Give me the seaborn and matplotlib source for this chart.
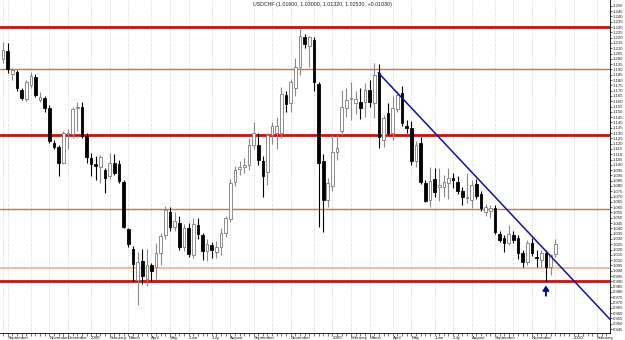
import numpy as np
import pandas as pd
import matplotlib
matplotlib.use("Agg")
import matplotlib.pyplot as plt
import matplotlib.transforms as mtransforms
import seaborn as sns

# weekly USDCHF bars
first_week = "2007-08-26"
opens = [1.200, 1.207, 1.186, 1.1875, 1.171, 1.162, 1.175, 1.183, 1.161, 1.163,
         1.154, 1.121, 1.117, 1.102, 1.129, 1.129, 1.154, 1.155, 1.127, 1.106,
         1.101, 1.098, 1.095, 1.089, 1.102, 1.101, 1.084, 1.039, 1.021, 0.991,
         1.009, 0.992, 1.005, 1.004, 1.017, 1.034, 1.055, 1.041, 1.045, 1.022,
         1.040, 1.015, 1.043, 1.034, 1.019, 1.024, 1.018, 1.022, 1.036, 1.049,
         1.084, 1.096, 1.098, 1.100, 1.119, 1.119, 1.104, 1.093, 1.128, 1.130,
         1.130, 1.166, 1.158, 1.172, 1.192, 1.221, 1.212, 1.218, 1.176, 1.104,
         1.067, 1.080, 1.112, 1.132, 1.154, 1.162, 1.158, 1.159, 1.159, 1.171,
         1.158, 1.187, 1.123, 1.149, 1.130, 1.153, 1.168, 1.137, 1.135, 1.104,
         1.121, 1.083, 1.067, 1.087, 1.079, 1.079, 1.083, 1.088, 1.084, 1.075,
         1.069, 1.067, 1.082, 1.072, 1.055, 1.056, 1.059, 1.035, 1.031, 1.026,
         1.034, 1.031, 1.017, 1.008, 1.026, 1.013, 1.010, 1.017, 1.004, 1.016]
highs = [1.216, 1.215, 1.191, 1.189, 1.172, 1.180, 1.1875, 1.186, 1.169, 1.165,
         1.156, 1.123, 1.119, 1.132, 1.134, 1.155, 1.159, 1.159, 1.130, 1.111,
         1.108, 1.109, 1.097, 1.111, 1.110, 1.105, 1.086, 1.040, 1.023, 1.018,
         1.021, 1.021, 1.007, 1.026, 1.036, 1.061, 1.060, 1.055, 1.052, 1.044,
         1.045, 1.050, 1.050, 1.036, 1.030, 1.027, 1.028, 1.040, 1.052, 1.087,
         1.099, 1.104, 1.106, 1.125, 1.140, 1.130, 1.108, 1.130, 1.140, 1.145,
         1.173, 1.170, 1.181, 1.201, 1.229, 1.223, 1.222, 1.221, 1.178, 1.110,
         1.088, 1.128, 1.128, 1.171, 1.172, 1.178, 1.170, 1.172, 1.177, 1.180,
         1.196, 1.195, 1.147, 1.158, 1.165, 1.170, 1.174, 1.142, 1.141, 1.122,
         1.126, 1.086, 1.098, 1.097, 1.097, 1.090, 1.097, 1.092, 1.089, 1.079,
         1.092, 1.086, 1.087, 1.075, 1.063, 1.062, 1.062, 1.038, 1.034, 1.043,
         1.038, 1.034, 1.020, 1.029, 1.031, 1.020, 1.020, 1.020, 1.016, 1.030]
lows = [1.196, 1.187, 1.180, 1.170, 1.161, 1.160, 1.172, 1.164, 1.159, 1.150,
        1.1206, 1.115, 1.089, 1.101, 1.115, 1.125, 1.132, 1.125, 1.102, 1.089,
        1.086, 1.083, 1.073, 1.087, 1.090, 1.083, 1.040, 1.022, 0.990, 0.968,
        0.988, 0.986, 0.990, 0.992, 1.005, 1.030, 1.038, 1.038, 1.020, 1.019,
        1.013, 1.012, 1.030, 1.010, 1.009, 1.012, 1.012, 1.015, 1.032, 1.046,
        1.080, 1.090, 1.092, 1.095, 1.115, 1.100, 1.070, 1.081, 1.120, 1.115,
        1.125, 1.150, 1.150, 1.165, 1.185, 1.210, 1.192, 1.170, 1.041, 1.037,
        1.060, 1.075, 1.105, 1.128, 1.145, 1.142, 1.148, 1.143, 1.145, 1.155,
        1.144, 1.116, 1.117, 1.128, 1.123, 1.150, 1.137, 1.130, 1.100, 1.098,
        1.082, 1.065, 1.060, 1.070, 1.066, 1.070, 1.068, 1.078, 1.072, 1.062,
        1.064, 1.059, 1.068, 1.056, 1.052, 1.050, 1.035, 1.027, 1.018, 1.024,
        1.026, 1.011, 1.004, 1.005, 1.014, 1.004, 1.004, 0.990, 0.996, 1.0132]
closes = [1.208, 1.190, 1.189, 1.1725, 1.163, 1.178, 1.184, 1.166, 1.164, 1.154,
          1.1225, 1.117, 1.102, 1.130, 1.130, 1.153, 1.155, 1.127, 1.107, 1.101,
          1.099, 1.107, 1.088, 1.102, 1.092, 1.085, 1.041, 1.025, 1.006, 1.008,
          0.995, 1.005, 1.000, 1.017, 1.033, 1.057, 1.041, 1.047, 1.022, 1.040,
          1.016, 1.044, 1.035, 1.019, 1.025, 1.020, 1.022, 1.036, 1.050, 1.083,
          1.095, 1.098, 1.100, 1.119, 1.130, 1.105, 1.089, 1.128, 1.137, 1.137,
          1.167, 1.157, 1.178, 1.192, 1.222, 1.214, 1.221, 1.178, 1.102, 1.067,
          1.083, 1.112, 1.116, 1.155, 1.161, 1.1625, 1.162, 1.154, 1.171, 1.159,
          1.185, 1.126, 1.144, 1.130, 1.154, 1.166, 1.139, 1.135, 1.104, 1.119,
          1.084, 1.066, 1.085, 1.074, 1.081, 1.084, 1.088, 1.086, 1.075, 1.070,
          1.070, 1.081, 1.071, 1.059, 1.060, 1.059, 1.037, 1.029, 1.026, 1.035,
          1.029, 1.017, 1.008, 1.026, 1.017, 1.012, 1.017, 1.004, 1.015, 1.0253]

red_levels = [1.230, 1.128, 0.990]
orange_levels = [1.190, 1.058]
light_levels = [1.0025]

trend_dates = ["2009-03-14", "2010-02-27"]
trend_values = [1.187, 0.954]

arrow_week = "2009-11-22"
arrow_span = [0.9765, 0.9862]

label_months = ["2007-09", "2007-11", "2007-12", "2008-01", "2008-02", "2008-03",
                "2008-04", "2008-05", "2008-06", "2008-07", "2008-08", "2008-09",
                "2008-11", "2009-01", "2009-02", "2009-03", "2009-04", "2009-05",
                "2009-06", "2009-07", "2009-08", "2009-09", "2009-11", "2010-01",
                "2010-02"]
label_texts = ["September", "November", "December", "2008", "February", "March",
               "April", "May", "June", "July", "August", "September",
               "November", "2009", "February", "March", "April", "May",
               "June", "July", "August", "September", "November", "2010",
               "February"]

title = "USDCHF (1.01600, 1.03000, 1.01320, 1.02530, +0.01030)"

sns.set_theme(style="white")
plt.rcParams["font.family"] = ["Liberation Sans", "DejaVu Sans"]

df = pd.DataFrame({"open": opens, "high": highs, "low": lows, "close": closes})
df["date"] = pd.date_range(first_week, periods=len(df), freq="7D")
up = df["close"] >= df["open"]

fig = plt.figure(figsize=(6.25, 3.4), dpi=100)
ax = fig.add_axes([0, 0.0206, 0.976, 0.9794])

# levels
for lv in red_levels:
    ax.axhline(lv, color="#cc1010", lw=2.0, zorder=1)
for lv in orange_levels:
    ax.axhline(lv, color="#d2753a", lw=1.0, zorder=1)
for lv in light_levels:
    ax.axhline(lv, color="#f2a878", lw=1.1, zorder=1)

# candles
wick_col = np.where(up, "#8a8a8a", "black")
ax.vlines(df["date"], df["low"], df["high"], colors=wick_col, lw=0.8, zorder=2)
body_lo = df[["open", "close"]].min(axis=1)
body_h = np.maximum((df["close"] - df["open"]).abs(), 0.0007)
ax.bar(df.loc[up, "date"], body_h[up], bottom=body_lo[up], width=4.0,
       color="white", edgecolor="#7a7a7a", lw=0.6, zorder=3)
ax.bar(df.loc[~up, "date"], body_h[~up], bottom=body_lo[~up], width=4.0,
       color="black", edgecolor="black", lw=0.6, zorder=3)

# trend line
sns.lineplot(x=pd.to_datetime(trend_dates), y=trend_values, color="#12129a",
             lw=1.1, ax=ax, zorder=4)

ax.annotate("", xy=(pd.Timestamp(arrow_week), arrow_span[1]),
            xytext=(pd.Timestamp(arrow_week), arrow_span[0]),
            arrowprops=dict(arrowstyle="-|>,head_width=0.3,head_length=0.45",
                            color="#0a0a90", lw=1.4, mutation_scale=6,
                            shrinkA=0, shrinkB=0))

# x axis: grid at first bar of each month, labels on some
weeks = pd.date_range(first_week, "2010-03-31", freq="7D")
firsts = weeks.to_series().groupby(weeks.to_period("M")).first()
lab_map = dict(zip(label_months, label_texts))
ax.set_xticks(firsts.values)
ax.set_xticklabels([lab_map.get(str(p), "") for p in firsts.index],
                   fontsize=3.2, ha="left", color="#222222")
shift = mtransforms.ScaledTranslation(1.0 / 72, 0, fig.dpi_scale_trans)
for t in ax.get_xticklabels():
    t.set_transform(t.get_transform() + shift)
ax.set_xticks(weeks, minor=True)
ax.tick_params(axis="x", which="both", length=1.8, width=0.5, pad=0.5,
               direction="out", color="#444444", bottom=True)
ax.grid(axis="x", which="major", color="#c4c4c4", ls=(0, (1, 2)), lw=0.6)

ax.set_xlim(pd.Timestamp("2007-08-21 12:00"), pd.Timestamp("2010-02-26 16:00"))
ax.set_ylim(0.9413, 1.2555)

# price axis on the right
ax.yaxis.tick_right()
ax.set_yticks(np.round(np.arange(0.945, 1.2501, 0.005), 3))
ax.yaxis.set_major_formatter(plt.FormatStrFormatter("%.3f"))
ax.tick_params(axis="y", length=1.5, width=0.5, pad=0.6, labelsize=3.1,
               labelcolor="#222222", direction="out", right=True)
ax.set_xlabel("")
ax.set_ylabel("")

for s in ["top", "left"]:
    ax.spines[s].set_visible(False)
for s in ["right", "bottom"]:
    ax.spines[s].set_color("black")
    ax.spines[s].set_linewidth(0.6)

fig.text(0.405, 0.994, title, fontsize=3.8, va="top", ha="left", color="#222222")

fig.savefig("out.png", dpi=100)
